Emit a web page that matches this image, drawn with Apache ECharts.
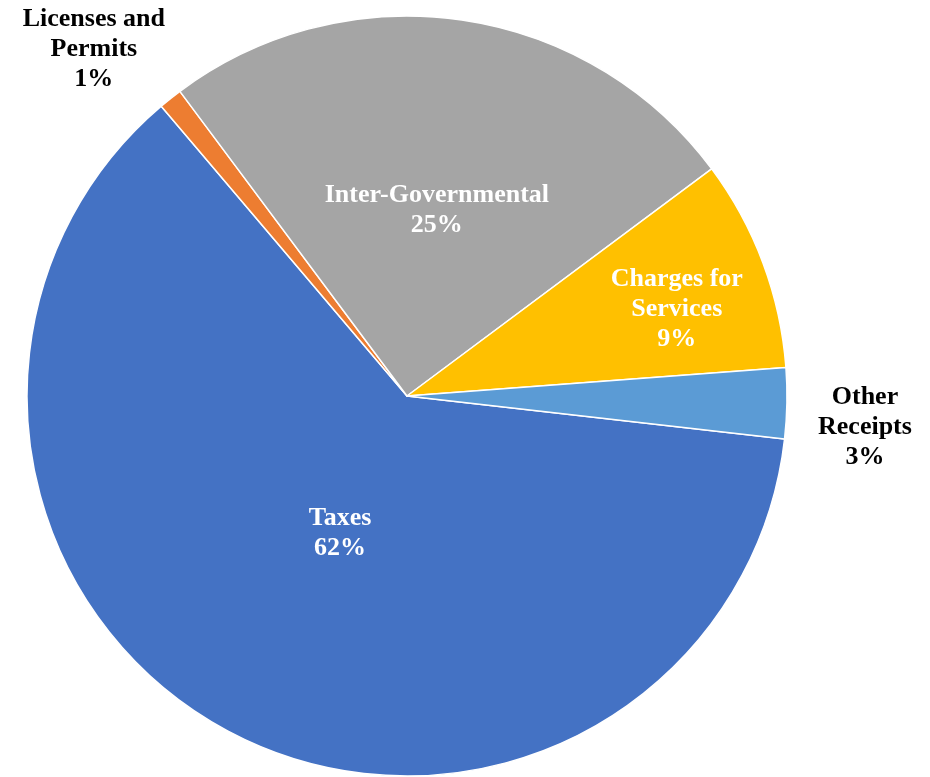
<!DOCTYPE html>
<html>
<head>
<meta charset="utf-8">
<script src="https://cdn.jsdelivr.net/npm/echarts@6/dist/echarts.min.js"></script>
<style>
  html, body { margin: 0; padding: 0; background: #ffffff; }
  #chart { width: 930px; height: 777px; }
</style>
</head>
<body>
<div id="chart"></div>
<script>
// Revenue sources, share of total receipts (%)
const categories = ['Taxes', 'Licenses and\nPermits', 'Inter-Governmental', 'Charges for\nServices', 'Other\nReceipts'];
const shares = [62, 1, 25, 9, 3];

const sliceColors = ['#4472C4', '#ED7D31', '#A5A5A5', '#FFC000', '#5B9BD5'];
const labelColors = ['#ffffff', '#000000', '#ffffff', '#ffffff', '#000000'];
// nudges from the default inside-label spot of each slice
const labelShift = [[24, -33], [-193, -196], [2, 5], [89, -19], [265, 28]];

const chart = echarts.init(document.getElementById('chart'), null, { renderer: 'canvas' });

chart.setOption({
  backgroundColor: '#ffffff',
  animation: false,
  series: [{
    type: 'pie',
    center: [407, 396],
    radius: 380,
    startAngle: -6.5,
    clockwise: true,
    avoidLabelOverlap: false,
    itemStyle: { borderColor: '#ffffff', borderWidth: 1.5 },
    label: {
      show: true,
      position: 'inside',
      fontFamily: '"Liberation Serif", "Times New Roman", serif',
      fontWeight: 'bold',
      fontSize: 26,
      lineHeight: 30,
      align: 'center',
      formatter: p => p.name + '\n' + Math.round(p.percent) + '%'
    },
    labelLine: { show: false },
    emphasis: { disabled: true },
    labelLayout: p => ({ dx: labelShift[p.dataIndex][0], dy: labelShift[p.dataIndex][1] }),
    data: categories.map((name, i) => ({
      name: name,
      value: shares[i],
      itemStyle: { color: sliceColors[i] },
      label: { color: labelColors[i] }
    }))
  }]
});
</script>
</body>
</html>
